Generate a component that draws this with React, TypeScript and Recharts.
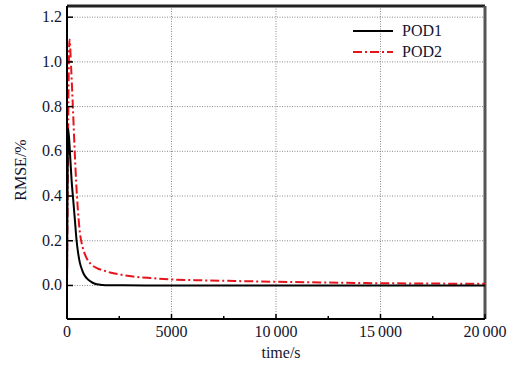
import { LineChart, Line, XAxis, YAxis, CartesianGrid, ReferenceLine } from 'recharts';

const pod1Time = [0, 60, 150, 220, 300, 380, 460, 540, 620, 720, 810, 950, 1100, 1250, 1420, 1700, 2000, 2700, 5000, 10000, 15000, 20000];
const pod1Rmse = [0, 0.7, 0.58, 0.47, 0.38, 0.29, 0.2, 0.14, 0.1, 0.07, 0.05, 0.032, 0.02, 0.011, 0.005, 0.002, 0.001, 0.0005, 0, 0, 0, 0];

const pod2Time = [0, 120, 200, 280, 360, 440, 520, 600, 700, 800, 950, 1150, 1430, 1750, 2060, 2600, 3160, 4000, 5000, 6500, 8000, 10000, 12500, 15000, 17500, 20000];
const pod2Rmse = [0, 1.1, 0.97, 0.8, 0.62, 0.46, 0.34, 0.25, 0.19, 0.155, 0.12, 0.095, 0.078, 0.067, 0.058, 0.048, 0.04, 0.033, 0.027, 0.023, 0.02, 0.0165, 0.013, 0.01, 0.0085, 0.0075];

const xTicks = [0, 2500, 5000, 7500, 10000, 12500, 15000, 17500, 20000];
const yTicks = [-0.1, 0, 0.1, 0.2, 0.3, 0.4, 0.5, 0.6, 0.7, 0.8, 0.9, 1.0, 1.1, 1.2];
const yGrid = [0, 0.2, 0.4, 0.6, 0.8, 1.0, 1.2];
const xGrid = [5000, 10000, 15000];
const seriesNames = ['POD1', 'POD2'];

const pod1 = pod1Time.map((t, i) => ({ t, v: pod1Rmse[i] }));
const pod2 = pod2Time.map((t, i) => ({ t, v: pod2Rmse[i] }));

const FONT = '"Liberation Serif", "Times New Roman", serif';
const TEXT = '#141430';
const RED = '#e8141b';
const RED_DASH = '9 3 2 3';
const txt = { fontFamily: FONT, fontSize: 16, fill: TEXT };

const fmtX = (v: number) => (v >= 10000 ? `${Math.floor(v / 1000)}\u2009${String(v % 1000).padStart(3, '0')}` : String(v));

function XTick(props: any) {
  const { x, y, payload } = props;
  const major = payload.value % 5000 === 0;
  return (
    <g>
      <line x1={x} x2={x} y1={y} y2={y - (major ? 5 : 3)} stroke="#000" strokeWidth={1.5} />
      {major && (
        <text x={x} y={y + 18} textAnchor="middle" style={txt}>
          {fmtX(payload.value)}
        </text>
      )}
    </g>
  );
}

function YTick(props: any) {
  const { x, y, payload } = props;
  const n = Math.round(payload.value * 10);
  const major = n % 2 === 0;
  return (
    <g>
      <line x1={x} x2={x + (major ? 6 : 4)} y1={y} y2={y} stroke="#000" strokeWidth={1.5} />
      {major && (
        <text x={x - 5} y={y + 5} textAnchor="end" style={txt}>
          {payload.value.toFixed(1)}
        </text>
      )}
    </g>
  );
}

export default function App() {
  return (
    <div style={{ position: 'absolute', left: 0, top: 0, width: 522, height: 368, background: '#fff' }}>
      <LineChart width={522} height={368} margin={{ top: 6, right: 37, bottom: 9, left: 7 }}>
        <CartesianGrid
          horizontalValues={yGrid}
          verticalValues={xGrid}
          stroke="#8a8a8a"
          strokeDasharray="1 1.5"
          strokeWidth={1}
        />
        <XAxis
          dataKey="t"
          type="number"
          domain={[0, 20000]}
          ticks={xTicks}
          allowDataOverflow
          height={40}
          tickSize={0}
          tickMargin={0}
          tickLine={false}
          tick={<XTick />}
          axisLine={{ stroke: '#000', strokeWidth: 2 }}
        />
        <YAxis
          type="number"
          domain={[-0.15, 1.25]}
          ticks={yTicks}
          allowDataOverflow
          width={60}
          tickSize={0}
          tickMargin={0}
          tickLine={false}
          tick={<YTick />}
          axisLine={{ stroke: '#000', strokeWidth: 2 }}
        />
        <ReferenceLine y={1.25} stroke="#222" strokeWidth={3} />
        <ReferenceLine x={20000} stroke="#555" strokeWidth={3} />
        <text x={281} y={358} textAnchor="middle" style={txt}>time/s</text>
        <text x={20} y={170} transform="rotate(-90 20 170)" textAnchor="middle" dominantBaseline="central" style={txt}>
          RMSE/%
        </text>
        <g>
          <line x1={353} x2={393} y1={31} y2={31} stroke="#000" strokeWidth={2} />
          <text x={402} y={36} style={txt}>{seriesNames[0]}</text>
          <line x1={353} x2={393} y1={52} y2={52} stroke={RED} strokeWidth={2} strokeDasharray={RED_DASH} />
          <text x={402} y={57} style={txt}>{seriesNames[1]}</text>
        </g>
        <Line data={pod2} dataKey="v" name={seriesNames[1]} type="monotone" stroke={RED} strokeWidth={2} strokeDasharray={RED_DASH} dot={false} isAnimationActive={false} />
        <Line data={pod1} dataKey="v" name={seriesNames[0]} type="monotone" stroke="#000" strokeWidth={2} dot={false} isAnimationActive={false} />
      </LineChart>
    </div>
  );
}
